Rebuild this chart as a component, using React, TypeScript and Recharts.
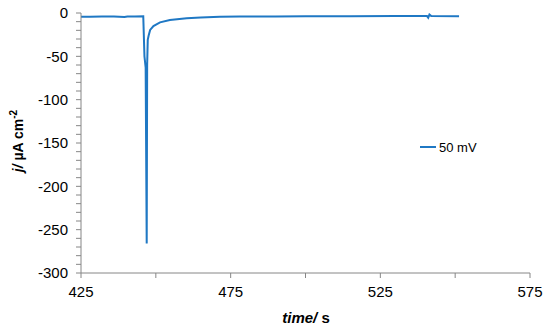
import React from 'react';
import { LineChart, Line, XAxis, YAxis, Legend } from 'recharts';

const times = [425, 428, 432, 436, 439.5, 440.5, 443, 445.8, 446.2, 446.6, 446.95, 447.1, 447.3, 447.6, 448.1, 449.2, 451.4, 454.7, 460.3, 465, 471.4, 478, 490, 500, 515, 530, 540.6, 541, 541.4, 542, 551.3];
const current50mV = [-4.2, -4.4, -4.0, -4.1, -4.6, -4.0, -3.9, -3.8, -50, -63, -266, -60, -31, -26, -19.6, -15, -10.8, -8, -6, -5.1, -4.4, -4.1, -3.9, -3.8, -3.7, -3.6, -3.6, -5.5, -1.8, -3.6, -3.7];
const seriesName = '50 mV';
const xTicks = [425, 450, 475, 500, 525, 550, 575];
const xLabeled = [425, 475, 525, 575];
const yTicks = [-300, -290, -280, -270, -260, -250, -240, -230, -220, -210, -200, -190, -180, -170, -160, -150, -140, -130, -120, -110, -100, -90, -80, -70, -60, -50, -40, -30, -20, -10, 0];
const yLabeled = [-300, -250, -200, -150, -100, -50, 0];

const data = times.map((t, i) => ({ t, j: current50mV[i] }));

const FONT = '"Liberation Sans", Arial, sans-serif';
const LINE = '#1F78C4';
const AXIS = '#868686';

const renderLegend = (props: any) => {
  const item = props.payload && props.payload[0];
  return (
    <svg width={80} height={20} style={{ display: 'block' }}>
      <line x1={2} y1={9} x2={18} y2={9} stroke={LINE} strokeWidth={2} />
      <text x={21} y={9} dy="0.35em" fontSize={13} fontFamily={FONT} fill="#000">
        {item ? item.value : seriesName}
      </text>
    </svg>
  );
};

export default function App() {
  return (
    <div style={{ position: 'absolute', left: 0, top: 0, width: 550, height: 329, background: '#fff' }}>
      <LineChart width={550} height={329} data={data} margin={{ top: 13, right: 20, bottom: 0, left: 0 }}>
        <XAxis
          type="number"
          dataKey="t"
          domain={[425, 575]}
          ticks={xTicks}
          interval={0}
          allowDataOverflow
          tickFormatter={(v: number) => (xLabeled.includes(v) ? String(v) : '')}
          height={56}
          tickSize={5}
          tickMargin={8}
          axisLine={{ stroke: AXIS, strokeWidth: 1 }}
          tickLine={{ stroke: AXIS, strokeWidth: 1 }}
          tick={{ fontSize: 15, fill: '#000', fontFamily: FONT }}
          label={{
            content: () => (
              <text x={306} y={323} textAnchor="middle" fontSize={15} fontWeight="bold" fontFamily={FONT} fill="#000">
                <tspan fontStyle="italic">time/</tspan>
                <tspan> s</tspan>
              </text>
            ),
          }}
        />
        <YAxis
          type="number"
          domain={[-300, 0]}
          ticks={yTicks}
          interval={0}
          allowDataOverflow
          tickFormatter={(v: number) => (yLabeled.includes(v) ? String(v) : '')}
          width={81}
          tickSize={5}
          tickMargin={8}
          axisLine={{ stroke: AXIS, strokeWidth: 1 }}
          tickLine={{ stroke: AXIS, strokeWidth: 1 }}
          tick={{ fontSize: 15, fill: '#000', fontFamily: FONT }}
          label={{
            content: () => (
              <text transform="rotate(-90)" x={-141} y={23} textAnchor="middle" fontSize={14} fontWeight="bold" fontFamily={FONT} fill="#000">
                <tspan fontStyle="italic">j/</tspan>
                <tspan> µA cm</tspan>
                <tspan fontSize={10} dy={-6}>-2</tspan>
              </text>
            ),
          }}
        />
        <Legend
          layout="horizontal"
          verticalAlign="middle"
          align="center"
          content={renderLegend}
          wrapperStyle={{ position: 'absolute', left: 418, top: 138, width: 80, height: 20 }}
        />
        <Line
          type="linear"
          dataKey="j"
          name={seriesName}
          stroke={LINE}
          strokeWidth={2}
          dot={false}
          activeDot={false}
          isAnimationActive={false}
        />
      </LineChart>
    </div>
  );
}
